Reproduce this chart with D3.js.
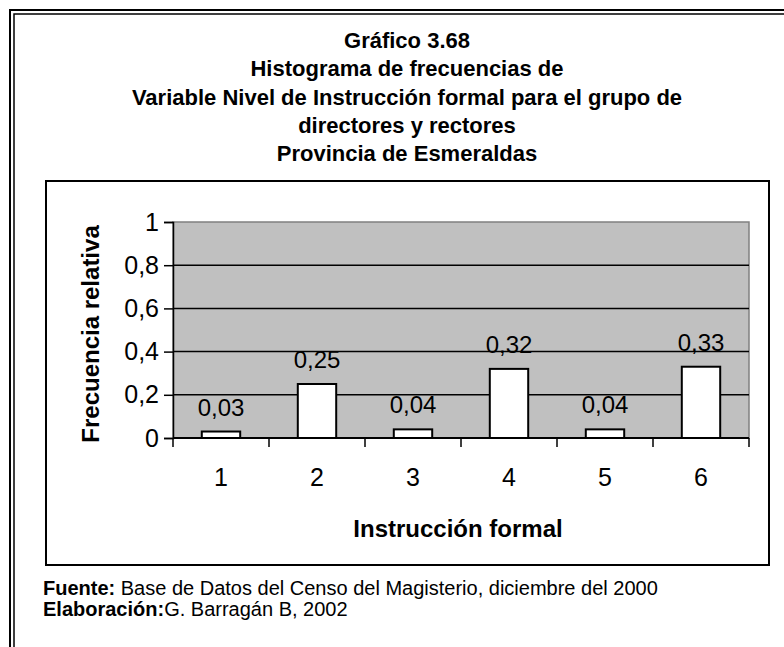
<!DOCTYPE html>
<html>
<head>
<meta charset="utf-8">
<script src="https://cdn.jsdelivr.net/npm/d3@7"></script>
<style>
  html, body { margin: 0; padding: 0; background: #fff; }
  svg { display: block; font-family: "Liberation Sans", Arial, sans-serif; }
</style>
</head>
<body>
<div id="chart"></div>
<script>
// data
var categories = ['1', '2', '3', '4', '5', '6']
var frecuencias = [0.03, 0.25, 0.04, 0.32, 0.04, 0.33]
var yTicks = [0, 0.2, 0.4, 0.6, 0.8, 1]
var titleLines = [
  'Gráfico 3.68',
  'Histograma de frecuencias de',
  'Variable Nivel de Instrucción formal para el grupo de',
  'directores y rectores',
  'Provincia de Esmeraldas'
]

var W = 784, H = 647
var plot = { left: 173, right: 749, top: 222, bottom: 438 }

var svg = d3.select('#chart').append('svg')
    .attr('width', W)
    .attr('height', H)

// outer double frame (open on right and bottom)
svg.append('path')
    .attr('d', 'M10,' + H + 'V10H' + W)
    .attr('fill', 'none').attr('stroke', '#000').attr('stroke-width', 2)
svg.append('path')
    .attr('d', 'M14,' + H + 'V14H' + W)
    .attr('fill', 'none').attr('stroke', '#000').attr('stroke-width', 1.5)

// title
svg.append('g').selectAll('text')
  .data(titleLines)
  .join('text')
    .attr('x', 407)
    .attr('y', (d, i) => 48 + i * 28.3)
    .attr('text-anchor', 'middle')
    .attr('font-weight', 'bold')
    .attr('font-size', 22)
    .text(d => d)

// chart box
svg.append('rect')
    .attr('x', 46).attr('y', 181)
    .attr('width', 723).attr('height', 384)
    .attr('fill', '#fff').attr('stroke', '#000').attr('stroke-width', 2)

// scales
var x = d3.scaleBand()
    .domain(categories)
    .range([plot.left, plot.right])
    .paddingInner(0.6)
    .paddingOuter(0.3)

var y = d3.scaleLinear()
    .domain([0, 1])
    .range([plot.bottom, plot.top])

// plot area
svg.append('rect')
    .attr('x', plot.left).attr('y', plot.top)
    .attr('width', plot.right - plot.left).attr('height', plot.bottom - plot.top)
    .attr('fill', '#c0c0c0').attr('stroke', '#808080').attr('stroke-width', 1.5)

// gridlines
svg.append('g').selectAll('line')
  .data(yTicks.filter(t => t > 0 && t < 1))
  .join('line')
    .attr('x1', plot.left).attr('x2', plot.right)
    .attr('y1', d => y(d)).attr('y2', d => y(d))
    .attr('stroke', '#000').attr('stroke-width', 1.5)

// y axis
var yAxis = svg.append('g')
    .attr('transform', 'translate(' + plot.left + ',0)')
    .call(d3.axisLeft(y).tickValues(yTicks).tickSize(9).tickPadding(5)
      .tickFormat(d => d3.format('.1~f')(d).replace('.', ',')))
yAxis.select('.domain').attr('stroke', '#000').attr('stroke-width', 1.5)
yAxis.selectAll('.tick line').attr('stroke', '#000').attr('stroke-width', 1.5)
yAxis.selectAll('.tick text')
    .attr('font-family', '"Liberation Sans", Arial, sans-serif')
    .attr('font-size', 25).attr('fill', '#000')

// x axis: ticks between categories
var step = x.step()
var xTickPos = d3.range(categories.length + 1).map(i => plot.left + i * step)
var xAxis = svg.append('g')
xAxis.append('line')
    .attr('x1', plot.left).attr('x2', plot.right)
    .attr('y1', plot.bottom).attr('y2', plot.bottom)
    .attr('stroke', '#000').attr('stroke-width', 2)
xAxis.selectAll('line.tk')
  .data(xTickPos)
  .join('line')
    .attr('class', 'tk')
    .attr('x1', d => d).attr('x2', d => d)
    .attr('y1', plot.bottom).attr('y2', plot.bottom + 9)
    .attr('stroke', '#000').attr('stroke-width', 1.5)
xAxis.selectAll('text')
  .data(categories)
  .join('text')
    .attr('x', d => x(d) + x.bandwidth() / 2)
    .attr('y', 486)
    .attr('text-anchor', 'middle')
    .attr('font-size', 25)
    .text(d => d)

// bars
svg.append('g').selectAll('rect')
  .data(frecuencias)
  .join('rect')
    .attr('x', (d, i) => x(categories[i]))
    .attr('y', d => y(d))
    .attr('width', x.bandwidth())
    .attr('height', d => y(0) - y(d))
    .attr('fill', '#fff').attr('stroke', '#000').attr('stroke-width', 2)

// data labels
svg.append('g').selectAll('text')
  .data(frecuencias)
  .join('text')
    .attr('x', (d, i) => x(categories[i]) + x.bandwidth() / 2)
    .attr('y', d => y(d) - 16)
    .attr('text-anchor', 'middle')
    .attr('font-size', 24)
    .text(d => d3.format('.2f')(d).replace('.', ','))

// axis titles
svg.append('text')
    .attr('x', 458)
    .attr('y', 537)
    .attr('text-anchor', 'middle')
    .attr('font-weight', 'bold')
    .attr('font-size', 24)
    .text('Instrucción formal')

svg.append('text')
    .attr('transform', 'translate(99,' + ((plot.top + plot.bottom) / 2 + 4) + ') rotate(-90)')
    .attr('text-anchor', 'middle')
    .attr('font-weight', 'bold')
    .attr('font-size', 24)
    .text('Frecuencia relativa')

// footer
var foot = svg.append('g').attr('font-size', 20)
var f1 = foot.append('text').attr('x', 43).attr('y', 595)
f1.append('tspan').attr('font-weight', 'bold').text('Fuente:')
f1.append('tspan').text(' Base de Datos del Censo del Magisterio, diciembre del 2000')
var f2 = foot.append('text').attr('x', 43).attr('y', 616)
f2.append('tspan').attr('font-weight', 'bold').text('Elaboración:')
f2.append('tspan').text('G. Barragán B, 2002')
</script>
</body>
</html>
